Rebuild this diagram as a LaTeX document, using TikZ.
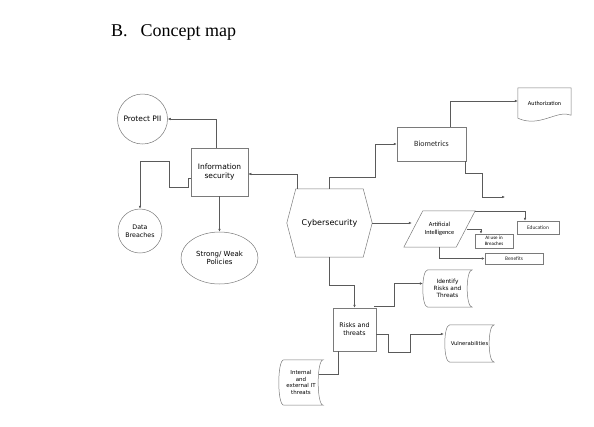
\documentclass[tikz,border=0pt]{standalone}
\usepackage{fontspec}
\setmainfont{Liberation Serif}
\newfontfamily\comicf{DejaVu Sans}
\newfontfamily\calf{Carlito}
\usetikzlibrary{arrows.meta,shapes.geometric,calc}
\definecolor{linecol}{HTML}{5A5A5A}
\definecolor{bordcol}{HTML}{7A7A7A}
\tikzset{
  conn/.style={draw=linecol,line width=0.5pt,-{Latex[length=3pt,width=2.6pt]}},
  plainconn/.style={draw=linecol,line width=0.5pt},
  shapeline/.style={draw=bordcol,line width=0.5pt},
  boxnode/.style={draw=bordcol,line width=0.5pt,inner sep=0pt,align=center},
  ghost/.style={inner sep=0pt,align=center},
  comictext/.style={font=\comicf\fontsize{7.5}{9}\selectfont,text=black},
  comicsmall/.style={font=\comicf\fontsize{5.8}{7}\selectfont,text=black},
  caltext/.style={font=\calf\fontsize{8}{9.5}\selectfont,text=black!85},
  calsmall/.style={font=\calf\fontsize{5.4}{6.2}\selectfont,text=black!85},
}
\begin{document}
\begin{tikzpicture}[x=1pt,y=1pt]
\useasboundingbox (0,0) rectangle (594,-426);
% title
\node[anchor=base west,inner sep=0pt,font=\fontsize{18}{20}\selectfont] (title) at (111,-36) {B.\hspace{13pt}Concept map};

% nodes
\node[boxnode,circle,minimum size=50pt,comictext] (pii) at (142.5,-119) {Protect PII};
\node[boxnode,rectangle,minimum width=57pt,minimum height=48pt,comictext] (info) at (219.5,-172) {Information\\security};
\node[boxnode,circle,minimum size=44pt,font=\comicf\fontsize{6.3}{7.6}\selectfont] (data) at (140,-231) {Data\\Breaches};
\node[boxnode,ellipse,minimum width=77pt,minimum height=52pt,font=\comicf\fontsize{7}{8.6}\selectfont] (pol) at (219.5,-258) {Strong/ Weak\\Policies};
\node[ghost,minimum width=85pt,minimum height=68pt,font=\comicf\fontsize{8}{9}\selectfont] (cyber) at (329.5,-223) {Cybersecurity};
\node[boxnode,rectangle,minimum width=69pt,minimum height=34pt,caltext] (bio) at (431.5,-144) {Biometrics};
\node[ghost,minimum width=53pt,minimum height=30pt,font=\calf\fontsize{6}{7}\selectfont] (auth) at (544.5,-103) {Authorization};
\node[ghost,minimum width=71pt,minimum height=36pt,font=\calf\fontsize{6.3}{7.6}\selectfont] (ai) at (439.5,-229) {Artificial\\Intelligence};
\node[boxnode,rectangle,minimum width=42pt,minimum height=13pt,calsmall] (edu) at (538,-227.5) {Education};
\node[boxnode,rectangle,minimum width=38pt,minimum height=14pt,font=\calf\fontsize{5}{6.2}\selectfont] (aiuse) at (494,-241) {AI use in\\Breaches};
\node[boxnode,rectangle,minimum width=58pt,minimum height=11pt,calsmall] (ben) at (514,-258.5) {Benefits};
\node[boxnode,rectangle,minimum width=43pt,minimum height=43pt,font=\comicf\fontsize{6.3}{8}\selectfont] (risks) at (354.5,-329.5) {Risks and\\threats};
\node[ghost,minimum width=49pt,minimum height=37pt,comicsmall] (ident) at (447.5,-288.5) {Identify\\Risks and\\Threats};
\node[ghost,minimum width=49pt,minimum height=37pt,font=\comicf\fontsize{5.3}{6.5}\selectfont] (vuln) at (469.5,-343.5) {Vulnerabilities};
\node[ghost,minimum width=44pt,minimum height=45pt,font=\comicf\fontsize{5.5}{6.6}\selectfont] (intern) at (301,-382.5) {Internal\\and\\external IT\\threats};

% custom outlines
\draw[shapeline] (cyber.west) -- ([xshift=9pt]cyber.north west) -- ([xshift=-9pt]cyber.north east)
  -- (cyber.east) -- ([xshift=-9pt]cyber.south east) -- ([xshift=9pt]cyber.south west) -- cycle;
\draw[shapeline] ([xshift=19pt]ai.north west) -- (ai.north east) -- ([xshift=-19pt]ai.south east)
  -- (ai.south west) -- cycle;
\draw[shapeline] (auth.south west) -- (auth.north west) -- (auth.north east) -- ([yshift=3pt]auth.south east)
  .. controls ([xshift=-14pt,yshift=9pt]auth.south east) and ([xshift=22pt,yshift=-10pt]auth.south west) .. (auth.south west);
\foreach \n in {ident,vuln,intern}{
  \draw[shapeline] ([xshift=5pt]\n.north west) -- (\n.north east)
    .. controls ([xshift=-6.7pt]\n.north east) and ([xshift=-6.7pt]\n.south east) .. (\n.south east)
    -- ([xshift=5pt]\n.south west)
    .. controls ([xshift=-1.7pt]\n.south west) and ([xshift=-1.7pt]\n.north west) .. ([xshift=5pt]\n.north west);
}

% connectors
\coordinate (bioend) at (505,-197);
\draw[conn] ([xshift=-3.5pt]info.north) |- (pii.east);
\draw[conn] ([yshift=-6pt]info.west) -- ++(-3,0) -- ++(0,-9) -- ++(-19,0) -- ++(0,26) -| (data.north);
\draw[conn] (info.south) -- (pol.north);
\draw[conn] ([xshift=10pt]cyber.north west) |- ([yshift=-2pt]info.east);
\draw[conn] (cyber.north) -- ++(0,12) -- ++(45.5,0) |- (bio.west);
\draw[conn] ([xshift=18.5pt]bio.north) |- ([yshift=2pt]auth.west);
\draw[conn] ([xshift=-1.5pt]bio.south east) -- ++(0,-12) -- ++(17,0) |- (bioend);
\draw[conn] (cyber.east) -- ([xshift=8pt]cyber.east -| ai.west);
\draw[conn] (ai.north east) -| ([xshift=-13pt]edu.north);
\draw[conn] ([xshift=-8.5pt]ai.east) -| ([xshift=-13pt]aiuse.north);
\draw[conn] (ai.south) |- (ben.west);
\draw[conn] (cyber.south) -- ++(0,-28) -| (risks.north);
\draw[conn] ([xshift=-2pt,yshift=2pt]risks.north east) -- ++(20,0) |- ([yshift=5pt]ident.west);
\draw[conn] ([yshift=-4.5pt]risks.east) -- ++(12,0) -- ++(0,-18) -- ++(22,0) |- ([xshift=-1pt,yshift=9.5pt]vuln.west);
\draw[plainconn] ([xshift=-16.5pt]risks.south) |- ([xshift=-4pt,yshift=8.5pt]intern.east);
\end{tikzpicture}
\end{document}
